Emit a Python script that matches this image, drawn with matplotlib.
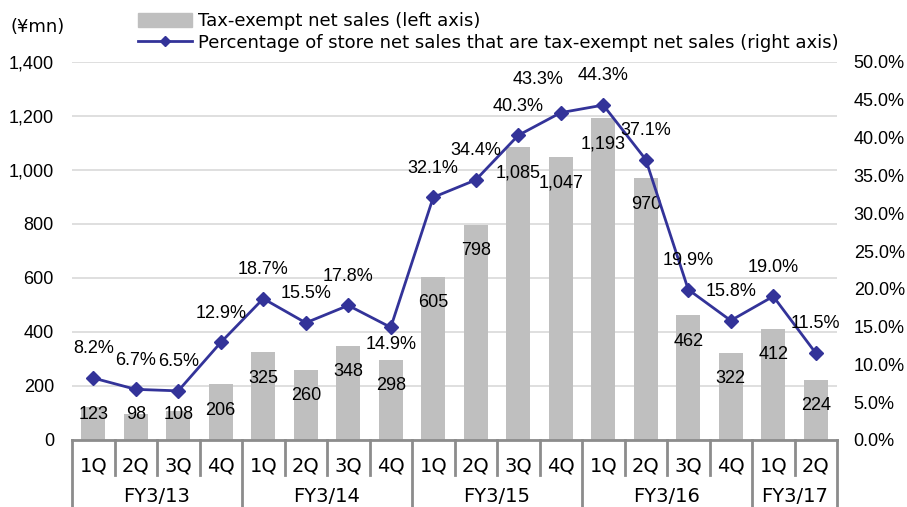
import matplotlib
matplotlib.use('Agg')
import matplotlib.pyplot as plt
import matplotlib.transforms as mtransforms
from matplotlib.lines import Line2D
from matplotlib.patches import Patch

plt.rcParams['font.family'] = ['Liberation Sans', 'DejaVu Sans']
plt.rcParams['font.size'] = 13

quarters = ['1Q', '2Q', '3Q', '4Q', '1Q', '2Q', '3Q', '4Q', '1Q', '2Q', '3Q', '4Q',
            '1Q', '2Q', '3Q', '4Q', '1Q', '2Q']
years = ['FY3/13', 'FY3/14', 'FY3/15', 'FY3/16', 'FY3/17']
year_sizes = [4, 4, 4, 4, 2]
sales = [123, 98, 108, 206, 325, 260, 348, 298, 605, 798, 1085, 1047,
         1193, 970, 462, 322, 412, 224]
pct = [8.2, 6.7, 6.5, 12.9, 18.7, 15.5, 17.8, 14.9, 32.1, 34.4, 40.3, 43.3,
       44.3, 37.1, 19.9, 15.8, 19.0, 11.5]

bar_color = '#BFBFBF'
line_color = '#333399'
grid_color = '#D9D9D9'
axis_color = '#8C8C8C'
wide_font = 'DejaVu Sans'

fig = plt.figure(figsize=(9.07, 5.07), dpi=100)
ax = fig.add_axes([72 / 907, 1 - 440 / 507, (837 - 72) / 907, 378 / 507])
ax2 = ax.twinx()

x = list(range(len(sales)))
ax.bar(x, sales, width=0.56, color=bar_color, zorder=2)
ax.set_xlim(-0.5, len(sales) - 0.5)
ax.set_ylim(0, 1400)
ax.set_yticks(range(0, 1401, 200))
ax.set_yticklabels(['{:,}'.format(v) for v in range(0, 1401, 200)])
ax.yaxis.grid(True, color=grid_color, lw=1.2, zorder=0)
ax.set_axisbelow(True)
ax.tick_params(axis='y', length=0, pad=13)
ax.set_xticks([])
for s in ['top', 'left', 'right']:
    ax.spines[s].set_visible(False)
ax.spines['bottom'].set_color(axis_color)
ax.spines['bottom'].set_linewidth(2)

for i, v in enumerate(sales):
    ax.text(i, max(v - 96, 93), '{:,}'.format(v), ha='center', va='center', zorder=5)

ax2.plot(x, [p / 100 for p in pct], color=line_color, lw=2, marker='D', ms=7, zorder=4)
ax2.set_ylim(0, 0.5)
ax2.set_yticks([i * 0.05 for i in range(11)])
ax2.set_yticklabels(['{:.1f}%'.format(i * 5) for i in range(11)])
ax2.tick_params(axis='y', length=0, pad=12)
for s in ['top', 'left', 'right', 'bottom']:
    ax2.spines[s].set_visible(False)

# label offsets in points (dx, dy)
offsets = {7: (0, -12), 11: (-16, 24)}
for i, p in enumerate(pct):
    dx, dy = offsets.get(i, (0, 21))
    ax2.annotate('{:.1f}%'.format(p), (i, p / 100), xytext=(dx, dy),
                 textcoords='offset points', ha='center', va='center', zorder=6)

# two-level category axis
trans = mtransforms.blended_transform_factory(ax.transData, ax.transAxes)
q_bottom = -35 / 378
y_bottom = -70 / 378
bounds = [-0.5]
for n in year_sizes:
    bounds.append(bounds[-1] + n)
for i in range(len(sales) + 1):
    xb = i - 0.5
    yb = y_bottom if xb in bounds else q_bottom
    ax.add_line(Line2D([xb, xb], [0, yb], transform=trans, color=axis_color,
                       lw=2, clip_on=False))
for i, q in enumerate(quarters):
    ax.text(i, -26 / 378, q, transform=trans, ha='center', va='center',
            family=wide_font, fontsize=14)
for j, yl in enumerate(years):
    ax.text((bounds[j] + bounds[j + 1]) / 2, -57 / 378, yl, transform=trans,
            ha='center', va='center', family=wide_font, fontsize=14)

fig.text(10 / 907, 1 - 27 / 507, '(¥mn)', ha='left', va='center',
         family=wide_font, fontsize=13)

handles = [Patch(color=bar_color),
           Line2D([], [], color=line_color, lw=2, marker='D', ms=5)]
labels = ['Tax-exempt net sales (left axis)',
          'Percentage of store net sales that are tax-exempt net sales (right axis)']
fig.legend(handles, labels, loc='upper left', bbox_to_anchor=(138 / 907, 1 - 12 / 507),
           frameon=False, handlelength=3.0, handleheight=0.8, labelspacing=0.2,
           handletextpad=0.3, borderaxespad=0, borderpad=0,
           prop={'family': wide_font, 'size': 13})

plt.savefig('out.png', dpi=100)
